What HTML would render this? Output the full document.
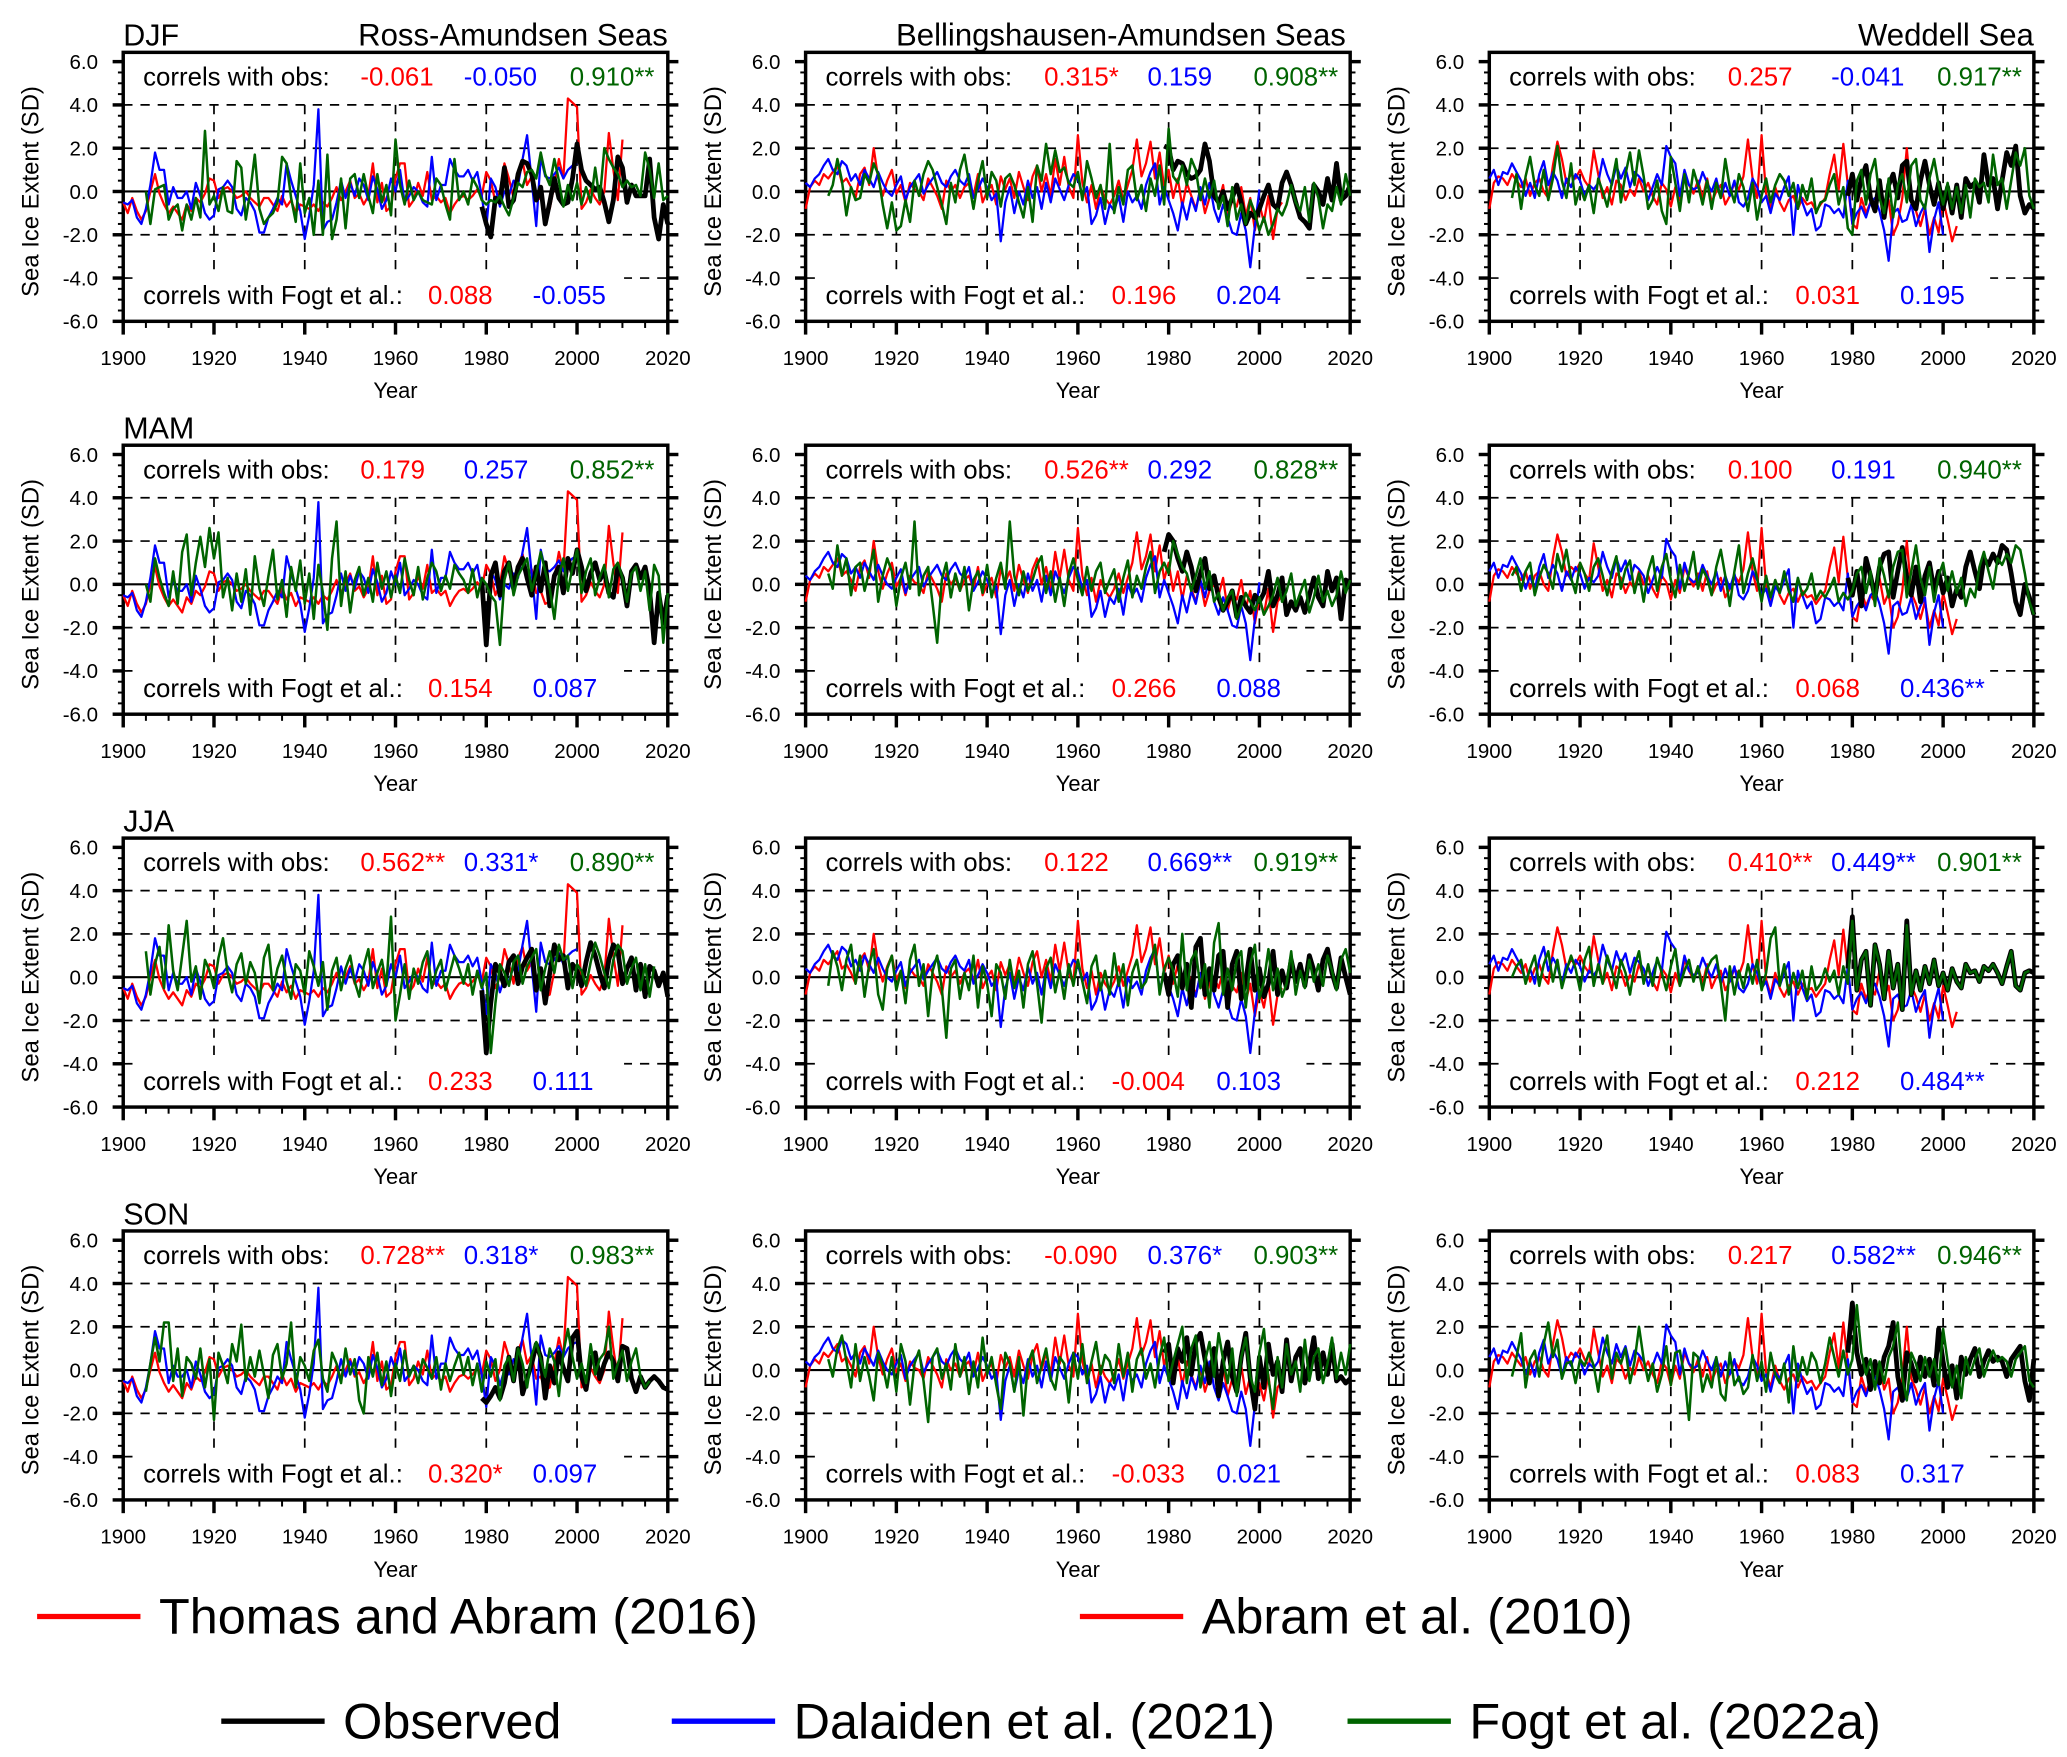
<!DOCTYPE html>
<html><head><meta charset="utf-8">
<style>
html,body{margin:0;padding:0;background:#fff;}
svg{display:block;font-family:"Liberation Sans",Arial,sans-serif;}
</style></head>
<body>
<svg id="fig" width="2067" height="1757" viewBox="0 0 1560 1326" xmlns="http://www.w3.org/2000/svg"></svg>
<script>
// ---- annual reconstructions (same across seasons) ----
const redC1 = [-0.5,-1.0,-0.3,-0.9,-1.3,-0.9,0.0,0.8,-0.1,-0.6,-1.0,-0.7,-1.0,-1.3,-0.6,-0.9,-0.3,-0.5,-0.1,0.6,0.5,-0.3,0.1,0.2,0.0,-0.3,-0.2,0.0,-0.3,-0.5,-0.7,-0.3,-0.3,-0.6,-0.9,-0.2,-0.7,-0.4,-1.0,-0.6,-0.7,-0.8,-0.6,-0.9,-0.5,-0.7,-0.3,0.2,-0.4,0.0,0.5,-0.3,-0.1,-0.6,-0.2,1.3,-0.5,0.4,-0.9,-0.7,0.6,1.3,1.3,-0.7,-0.4,0.4,-0.2,0.9,-0.4,-0.2,-0.5,-0.3,-1.0,-0.6,-0.3,-0.2,-0.4,-0.2,0.1,-0.2,0.9,0.5,-0.5,0.0,1.3,0.6,-0.3,0.9,1.4,0.3,0.7,-0.4,-0.3,-0.9,-0.8,0.3,1.5,0.6,4.3,4.1,3.9,-0.8,-0.5,0.1,-0.3,-0.6,0.0,2.7,1.0,-0.4,2.4];
const blueC1 = [-0.5,-0.6,-0.4,-1.2,-1.5,-0.8,0.3,1.8,1.0,1.0,-0.6,0.2,-0.3,-0.3,0.0,-0.8,0.4,-0.2,-1.0,-1.3,-1.1,0.1,0.2,0.5,0.2,-0.8,-1.1,-0.3,-0.5,-0.9,-1.9,-1.9,-1.2,-0.8,-0.3,-0.6,1.3,0.5,-0.2,-0.9,-2.2,-1.1,0.3,3.8,-1.8,-1.4,-1.3,-0.5,0.5,-0.3,0.4,-0.2,0.6,0.3,-0.4,0.7,0.1,-0.8,-0.4,0.6,0.0,1.0,-0.5,-0.2,0.2,0.0,-0.5,-0.7,1.6,-0.4,0.3,0.3,1.5,1.0,0.7,0.7,1.0,0.5,0.9,-0.2,-1.7,0.6,0.2,-0.7,0.0,-0.2,0.5,0.3,1.5,2.6,0.5,-1.6,1.6,0.7,0.6,0.8,1.1,0.6,1.0,1.2,1.3];
const redC2 = [-0.8,0.2,0.5,0.3,0.8,0.6,0.9,1.2,0.4,0.6,0.2,-0.3,0.8,1.1,0.3,2.0,0.6,-0.2,0.5,1.0,-0.1,0.3,-0.5,0.4,0.1,0.0,-0.4,0.6,0.2,-0.2,-0.8,0.5,0.0,0.3,-0.3,0.2,0.4,-0.2,0.8,-0.5,0.0,0.3,-0.6,0.7,0.1,0.6,-0.3,0.9,0.2,-0.4,0.7,1.2,0.0,0.8,-0.2,1.5,0.3,1.6,0.2,-0.3,2.6,0.4,-0.5,0.3,-0.8,0.2,-0.3,-0.6,-0.2,0.5,-0.4,0.3,1.0,2.4,0.7,1.3,2.3,0.6,1.8,0.2,1.0,-0.3,0.6,-0.7,0.4,-0.2,-0.8,0.1,-1.0,-0.3,0.0,-0.5,0.3,-1.2,-0.4,-0.7,0.2,-1.1,-0.3,-1.8,-0.6,-1.4,-0.2,-2.2,-0.8,-0.5];
const blueC2 = [0.4,0.2,0.6,0.8,1.2,1.5,1.0,0.8,1.4,1.2,0.5,0.8,0.3,1.0,0.6,0.2,0.9,0.4,0.0,-0.2,0.3,0.7,-0.4,0.2,0.5,0.8,-0.1,0.3,0.6,0.9,0.4,0.2,0.7,1.0,0.5,0.3,0.8,-0.3,0.1,0.6,0.2,-0.4,-0.1,-2.3,-0.5,0.2,-1.0,0.0,-0.6,0.5,-0.3,0.2,-0.8,0.4,-0.5,0.6,0.1,-0.4,0.3,0.8,0.6,-0.2,0.2,-1.5,-1.1,-0.3,-1.5,-0.6,-0.9,-0.2,-1.4,0.0,-0.5,-0.2,-0.8,0.3,0.9,1.3,-0.6,0.2,-0.4,-1.0,-1.8,-0.5,-1.3,-0.3,-0.9,0.2,-0.6,0.4,-0.8,-1.4,-0.6,-1.2,-1.9,-2.0,-1.0,-1.8,-3.5,-1.6,0.1];
const redC3 = [-0.8,0.4,0.7,0.6,0.3,0.8,0.5,0.2,0.6,-0.2,0.4,0.6,0.0,-0.3,1.2,2.3,1.5,0.4,0.8,0.6,1.0,0.5,0.2,1.9,0.8,-0.3,0.2,-0.6,0.5,0.3,-0.4,0.1,-0.2,0.6,0.0,0.4,-0.2,-0.6,0.4,0.1,-0.7,0.2,-0.4,0.8,0.3,-0.1,0.5,-0.3,0.6,-0.5,0.0,0.3,-0.6,-0.2,0.4,0.1,0.7,2.4,0.6,-0.3,2.6,-0.1,-0.8,0.2,-0.5,-0.9,-0.4,-0.2,-0.8,-0.3,-0.6,-0.5,-0.9,-0.6,-0.3,0.8,1.7,0.1,2.2,0.3,-1.5,-1.7,-0.3,-1.0,-0.5,-0.8,0.3,-0.9,-0.4,-2.0,-1.5,-0.3,2.0,-0.4,-0.9,-1.6,-0.8,-2.0,-1.2,-1.9,-0.4,-1.3,-2.3,-1.6];
const blueC3 = [0.6,1.0,0.3,0.9,0.8,1.3,0.9,0.5,-0.2,0.4,-0.3,0.8,1.4,0.3,0.9,0.5,-0.3,0.6,0.2,0.8,0.5,-0.2,0.3,0.1,0.4,1.5,0.8,0.3,1.2,0.6,1.1,0.2,0.9,0.7,0.4,-0.4,0.2,0.8,0.3,2.1,1.6,1.3,-0.2,1.0,0.3,0.1,0.2,0.9,0.4,0.0,0.6,-0.3,0.4,-0.2,0.5,-0.5,-0.7,-0.3,0.6,0.2,-0.5,-0.2,-1.0,-0.1,-0.4,0.2,0.7,-2.0,0.3,-0.5,-1.1,-0.8,-1.8,-1.6,-0.6,-0.7,-1.0,-0.8,-1.2,0.5,-1.5,-1.0,-0.7,-1.2,-0.5,-0.3,-0.9,-1.8,-3.2,-1.0,-0.8,-1.4,-1.3,-0.6,-1.6,-1.0,-0.6,-2.8,-1.3,-0.5,-2.0];

// ---- Fogt et al. (green, from 1905) per panel ----
const greenDJF1 = [0.0,-1.5,0.1,0.2,0.3,-1.3,-0.8,-0.6,-1.8,-0.6,-1.3,-0.3,-1.2,2.8,-0.6,-0.2,-0.9,0.2,-0.9,-1.0,1.4,1.1,-1.3,0.0,1.7,-0.8,-1.5,-1.2,-1.0,-0.5,1.6,1.3,-0.3,-1.4,1.3,-1.0,-0.3,-2.0,0.5,-2.0,1.7,-2.2,-1.3,0.6,-1.7,0.6,0.8,-0.3,0.8,-0.2,-1.0,0.8,-0.5,0.3,-1.1,2.4,0.3,-0.6,0.5,-0.4,0.0,-0.4,-0.5,-0.6,0.6,0.3,-0.6,-1.3,1.5,-0.4,0.0,-0.6,0.6,0.2,-0.4,-0.6,-0.4,-0.5,-0.2,-0.7,-1.1,-0.3,0.4,0.2,0.9,1.0,0.6,1.8,0.8,0.3,1.5,0.5,-0.7,0.3,-0.4,0.4,-0.6,0.2,-0.5,1.1,-0.4,2.0,1.5,1.1,0.8,0.2,0.5,0.2,0.3,-0.2,1.8,1.0,-0.3,1.3,-0.4,-0.2,-0.2,0.2,1.5,-0.8,-1.2,-1.0];
const greenMAM1 = [0.0,-0.8,1.2,0.3,-0.4,-1.0,0.6,-0.9,1.5,2.3,-0.5,1.0,2.2,0.8,2.6,1.2,2.4,-0.6,0.3,-1.2,0.5,-0.8,0.7,-1.4,1.3,-0.2,-1.0,0.4,1.6,-0.7,0.2,-1.5,0.8,-0.3,1.1,-0.9,0.5,-1.6,0.9,-0.4,-2.1,1.2,2.9,-1.0,0.6,-1.3,0.2,0.8,-0.5,0.3,-0.8,1.0,-0.2,0.6,-0.6,0.4,-0.4,1.2,0.2,-0.5,0.8,-0.7,0.3,1.0,0.6,-0.3,0.4,-0.2,0.9,0.5,0.2,-0.4,0.7,-0.6,0.3,0.0,-0.5,-0.8,-2.8,0.2,1.0,-0.5,0.4,0.8,1.2,-0.3,0.5,1.5,0.6,-0.2,-1.6,0.4,1.2,-0.3,0.8,1.6,-0.4,0.6,1.2,-0.5,0.3,0.9,-0.6,0.7,1.0,0.3,-0.8,0.5,0.8,-0.3,0.6,-1.2,0.9,0.4,-2.7,-0.4,-1.8,-0.5];
const greenJJA1 = [1.2,-0.8,0.6,1.4,-0.5,2.4,0.3,-0.6,1.0,2.6,-0.2,0.5,-1.0,0.8,0.3,-0.5,0.9,1.8,0.2,-0.7,0.6,1.1,-0.3,0.7,0.2,-1.2,0.9,1.5,-0.6,0.4,1.0,-0.2,-1.0,0.6,0.3,-0.8,1.2,0.5,-0.4,0.7,-1.5,0.3,0.9,-0.6,0.4,1.0,-0.2,-0.9,0.5,1.3,-0.5,0.2,0.8,-0.4,2.8,-2.0,-0.8,0.6,-1.0,0.4,-0.3,0.7,1.2,-0.5,0.3,0.8,-0.6,0.2,1.0,0.4,-0.3,0.6,-0.8,0.3,-0.5,0.2,-3.5,-1.2,0.6,0.2,-0.4,0.7,1.0,-0.3,0.5,0.9,1.3,-0.6,0.4,1.2,0.2,1.5,0.8,1.0,-0.5,0.6,0.3,-0.4,0.7,1.6,1.0,0.2,-0.5,0.8,1.5,1.2,-0.3,0.4,0.9,-0.6,0.6,-0.9,0.5];
const greenSON1 = [-1.0,0.3,1.5,0.4,2.2,2.2,-0.5,1.0,-1.2,0.6,0.3,-0.4,1.0,-0.8,0.5,-2.3,0.8,0.2,-0.6,1.2,0.4,2.1,-0.5,0.6,-0.3,0.9,-0.2,-1.3,0.7,1.2,-0.4,0.3,2.2,-0.8,0.6,0.2,-0.5,0.9,1.4,-0.4,-1.0,0.8,0.3,-0.6,1.0,-0.2,0.5,-1.4,-2.0,0.6,-0.3,0.8,-0.7,0.4,-1.2,0.3,-0.5,0.9,-0.3,0.2,-0.6,0.5,0.1,-0.4,0.6,-0.9,0.3,-0.5,0.2,0.8,-0.2,0.6,-0.7,0.3,-1.0,0.4,-0.3,0.5,-1.4,0.2,0.6,-0.5,1.0,0.3,-0.8,0.7,1.3,0.5,-0.3,1.0,0.4,-1.2,0.8,1.9,0.6,-0.4,0.3,-0.6,1.2,-0.2,0.5,0.8,2.0,-0.4,0.3,0.9,-0.5,0.4,1.0,-0.3,-0.8,-0.5];
const greenDJF2 = [-0.2,0.3,1.5,0.5,-1.1,0.2,-0.4,-0.3,0.8,0.4,1.3,0.8,-0.6,-1.7,-0.5,-1.8,-1.6,-0.4,-1.4,0.5,-0.2,0.8,1.4,1.0,0.2,-0.6,-1.5,0.4,-0.5,1.0,1.7,0.4,-0.8,0.5,1.4,-0.3,0.9,0.5,-0.7,0.6,0.8,0.3,-0.5,-1.2,0.2,-1.4,1.2,0.5,2.2,0.8,1.9,0.9,1.1,0.4,0.2,0.9,-0.4,1.4,0.6,-0.3,0.3,-0.8,2.2,-1.0,0.2,-0.6,1.0,1.2,-0.4,0.3,-0.9,0.6,-0.2,1.2,-0.6,2.9,0.7,0.4,1.2,0.3,1.5,1.0,-0.4,0.6,-0.3,0.5,-0.8,-0.2,-1.6,0.2,-1.3,-0.6,-1.5,-0.4,-1.0,-1.8,-1.2,-2.0,-1.5,-0.8,-1.1,-0.6,0.3,-0.5,-0.9,0.2,-1.4,0.4,-0.3,-1.7,-0.6,-0.9,0.2,-0.6,0.8,-0.2,0.4,-1.6,-0.3,0.0];
const greenMAM2 = [0.5,-0.2,1.8,0.4,1.2,-0.5,0.8,1.0,-0.3,0.6,1.6,-0.8,0.4,1.2,0.6,-1.0,0.3,1.0,-0.2,2.9,-0.5,0.4,0.8,-0.9,-2.7,0.2,1.0,-0.6,0.5,-0.3,0.8,-1.2,0.2,0.6,-0.4,0.9,-0.6,0.3,1.0,-0.2,2.9,0.4,-0.5,0.6,-0.3,0.2,0.9,1.3,-0.4,0.6,-0.8,0.3,-1.0,0.5,1.2,0.2,-0.5,0.8,-0.3,0.6,1.0,-0.4,0.2,0.7,-0.8,0.3,1.1,-0.6,0.4,-0.2,0.8,1.5,-0.4,0.6,1.0,0.5,2.0,1.4,0.8,0.5,-0.3,0.4,1.2,-0.2,0.6,-0.8,-0.4,-1.2,-0.6,-0.3,-1.6,-1.0,-0.4,-0.8,-1.2,-0.6,-1.4,-1.0,-0.5,0.3,-0.8,-0.3,0.5,-1.0,-0.4,0.2,-1.3,-0.6,0.4,-0.8,-0.3,-1.0,-0.5,0.6,-0.4,0.2,-1.5,0.3,0.0];
const greenJJA2 = [-0.4,1.2,0.5,-0.6,0.8,1.5,-0.3,1.0,-0.9,0.6,1.3,-0.8,-1.5,0.4,1.0,-0.6,0.3,-1.2,0.8,1.5,-0.4,0.6,-1.8,0.3,1.0,-0.5,-2.8,0.4,0.8,-1.0,0.2,-0.6,1.0,-1.4,0.5,-0.3,-1.8,0.6,0.2,-1.0,0.8,-0.5,0.3,-1.4,0.6,1.2,-0.3,-2.1,0.4,0.9,-0.7,0.3,-1.0,0.6,-0.4,0.8,-0.2,-1.2,0.5,1.0,-0.6,0.3,-0.8,1.1,-0.4,0.6,-1.3,0.2,0.8,-0.5,-0.2,0.6,1.5,-0.8,0.4,0.9,0.3,-0.9,2.0,-0.6,0.8,1.2,-0.5,0.6,-1.4,1.6,2.5,-0.8,0.4,-0.6,0.8,1.2,-1.4,0.6,1.5,-1.0,-0.2,1.3,-0.6,0.4,-0.9,-0.3,1.2,-0.8,0.3,-0.5,0.8,-0.2,0.6,-0.4,1.0,0.3,-0.6,0.8,1.3,0.2,-0.5,0.9,0.0];
const greenSON2 = [0.5,-0.3,1.0,1.6,0.4,-0.8,1.2,-0.5,0.6,-0.3,-1.4,0.8,0.2,-0.8,0.6,-1.0,1.2,0.4,-1.6,0.3,0.9,-0.5,-2.4,0.6,1.0,-0.4,0.3,-0.9,1.2,-0.3,0.6,-1.1,0.4,-0.8,1.5,-0.2,0.6,-0.7,-1.8,0.8,0.3,-1.0,0.6,-2.1,0.3,0.9,-0.6,0.2,1.0,-0.4,-0.9,0.6,0.3,-1.5,0.8,-0.4,1.2,-0.6,0.4,1.3,-0.2,0.7,0.4,-0.6,1.2,-0.3,0.8,-1.0,0.5,1.0,-0.4,0.3,-0.8,0.6,1.5,-0.5,0.4,1.2,2.0,-0.6,1.0,1.6,-0.8,0.4,1.3,-0.3,1.7,0.5,-0.6,1.0,-1.2,0.6,1.5,-0.3,-1.0,0.8,1.9,-0.4,-1.8,0.6,-0.8,1.2,-0.2,0.4,-1.0,1.4,-0.5,0.6,1.0,-0.6,0.3,1.5,-0.4,0.8,-0.2,1.2,-0.5,-0.3,0.0];
const greenDJF3 = [-0.3,0.8,-0.8,0.7,1.6,0.3,-0.2,1.0,-0.4,0.6,2.1,0.5,-0.3,1.3,-0.6,0.2,-0.4,0.3,-1.0,0.6,0.0,-0.7,0.4,1.5,-0.5,0.8,1.8,0.3,1.9,0.7,-0.8,-0.4,0.5,-0.9,-1.5,1.6,0.4,-0.9,0.8,-0.5,1.0,0.3,-0.6,0.5,-0.8,0.4,-0.3,1.5,0.2,-0.5,0.8,0.2,-0.9,0.4,-1.3,-0.2,0.6,-0.5,0.3,0.8,0.5,-0.2,0.4,-0.8,0.3,-0.4,0.6,-1.0,-0.5,-0.4,0.3,0.8,-0.6,0.2,-1.7,-2.0,0.5,1.0,-0.6,0.8,1.5,-0.3,-1.0,0.6,-1.2,0.3,0.8,-0.5,1.2,1.5,-0.4,-0.8,0.6,1.5,0.3,-0.6,0.4,-0.8,0.2,-1.0,0.3,-1.2,0.6,0.2,0.4,-0.5,1.7,0.3,0.6,-0.8,0.5,1.8,1.2,2.0,-0.2,-0.8];
const greenMAM3 = [0.4,0.8,-0.3,0.6,1.0,-0.5,0.3,0.9,0.5,-0.2,1.4,0.6,1.6,0.3,-0.4,1.0,0.5,-0.3,0.8,1.2,0.4,-0.5,0.6,1.3,-0.2,0.7,1.1,-0.4,0.5,-0.8,0.6,1.3,-0.3,0.8,1.4,0.2,-0.6,0.9,-0.3,0.5,1.5,-0.2,0.7,0.3,-0.5,0.8,1.6,0.4,-1.0,0.6,1.8,-0.4,0.5,1.2,0.3,-0.8,0.4,-0.6,0.2,-0.4,0.6,-0.3,-0.8,0.3,-0.5,-0.2,0.5,-0.7,-0.3,-0.6,-0.2,0.3,-0.8,-0.4,-0.7,-0.3,0.5,0.8,-0.4,0.6,-1.0,1.2,0.4,-0.6,0.8,1.5,1.6,-0.6,0.6,1.8,0.3,-0.5,0.8,-0.8,0.4,1.0,-0.3,0.6,-0.4,0.3,-1.0,-0.2,-0.6,0.8,1.5,0.6,-0.2,1.2,0.9,1.4,1.0,1.8,1.6,0.5,-0.8,-1.4,0.0];
const greenJJA3 = [0.0,0.5,0.8,-0.3,0.4,1.0,-0.4,0.6,1.2,-0.2,0.8,-0.5,0.3,1.0,0.4,-0.6,0.8,1.4,-0.4,0.6,-0.3,1.0,0.3,-0.5,0.8,0.2,-0.8,0.5,1.2,-0.3,0.6,-0.4,0.9,0.2,-0.6,0.5,1.3,-0.4,0.3,0.8,-0.2,0.5,-0.6,0.4,0.8,1.0,-0.3,-2.0,0.5,-0.8,0.3,-0.5,0.6,-0.3,0.8,-0.6,0.2,1.8,2.3,-0.4,0.6,-0.8,0.2,-0.5,0.3,-1.0,0.5,-0.6,-0.3,0.4,-0.2,0.3,-0.8,0.5,-0.3,2.6,-0.6,0.8,1.2,-1.3,1.5,0.6,-1.0,1.2,-0.5,0.6,-1.5,2.4,-0.8,0.3,-0.6,0.5,-0.3,0.8,-0.4,0.2,-0.6,0.4,-0.2,-0.5,0.6,0.2,0.3,-0.2,0.5,0.3,0.6,0.2,-0.3,0.5,1.2,-0.4,-0.6,0.2,0.3];
const greenSON3 = [-0.3,0.6,1.7,-0.8,0.5,0.9,-0.3,1.2,2.2,0.6,1.4,-0.4,0.3,0.4,-0.6,0.5,0.2,0.8,0.2,-1.0,0.6,1.6,-0.4,0.8,0.3,1.0,-0.6,0.4,2.0,0.5,-0.5,0.3,-1.0,-0.2,1.1,-0.7,0.8,0.9,-0.3,-2.3,0.8,0.6,-1.0,-0.2,-0.8,0.6,-1.1,-1.4,0.8,-0.7,-0.3,-1.1,-0.8,0.7,-0.5,0.4,-1.0,0.8,-0.2,-0.6,0.3,-1.5,1.1,-0.5,0.6,-0.2,0.8,0.4,-0.6,0.3,1.5,0.6,-0.3,0.9,-0.2,0.5,3.0,0.8,-0.2,0.5,-0.9,0.4,-0.6,0.6,1.1,2.2,-0.3,-1.4,0.8,0.3,-0.5,0.6,-0.3,0.5,-0.7,1.9,0.4,-0.8,0.2,-1.3,0.6,-0.2,0.5,1.0,-0.3,0.4,0.9,0.4,0.6,0.4,-0.3,0.5,0.8,1.1,-0.5,-0.8,-0.6,-0.9,0.3,0.5];

// ---- Observed (black, 1979-2020) per panel ----
const obsDJF1 = [-0.7,-1.5,-2.1,-0.3,-0.5,1.1,-0.7,-0.4,0.8,1.4,1.3,0.8,-0.4,0.2,-1.5,-0.5,0.6,-0.3,-0.6,-0.5,0.6,2.2,1.0,0.5,0.3,0.1,0.2,-0.5,-1.4,-0.4,1.6,1.1,-0.5,0.3,-0.2,-0.2,-0.2,1.5,-1.2,-2.2,-0.6,-1.5];
const obsMAM1 = [0.2,-2.8,0.4,1.0,-0.5,0.6,1.0,-0.2,0.8,1.2,0.3,-0.5,0.8,-0.3,1.0,-1.0,0.4,0.8,-0.4,1.2,0.5,1.6,0.8,-0.3,0.5,1.0,0.2,0.6,-0.4,-0.6,0.8,0.3,-1.0,0.6,0.9,0.3,0.8,-0.3,-2.7,-0.4,-1.8,-0.5];
const obsJJA1 = [-0.6,-3.5,-1.2,0.6,0.2,-0.4,0.7,1.0,-0.3,0.5,0.9,1.3,-0.6,0.4,-1.2,0.2,1.5,0.8,1.0,-0.5,0.6,0.3,-0.4,0.7,1.6,1.0,0.2,-0.5,0.8,1.5,1.2,-0.3,0.4,0.9,-0.6,0.6,-0.9,0.5,0.3,-0.4,0.2,-0.9];
const obsSON1 = [-1.3,-1.5,-1.2,-0.8,-1.3,-0.6,0.6,-0.5,1.0,-1.1,-0.4,0.3,1.2,0.6,-1.3,0.2,-0.6,0.8,0.1,-0.5,1.5,1.8,-0.3,-0.9,0.5,0.8,-0.4,0.3,0.8,0.4,-0.5,1.1,1.0,-0.4,-1.0,-0.3,-0.8,-0.5,-0.3,-0.5,-0.8,-0.9];
const obsDJF2 = [2.1,2.0,1.0,1.4,1.3,0.8,0.6,0.7,1.0,2.2,1.4,-0.2,-0.5,0.0,-0.8,-0.3,0.3,-0.5,-1.5,-1.0,-1.2,-0.8,-0.2,0.3,-0.6,-0.8,0.4,0.9,0.3,-0.5,-1.2,-1.4,-1.7,0.3,0.0,-0.6,0.6,-0.4,1.3,-0.4,-0.2,0.3];
const obsMAM2 = [1.5,2.3,2.0,1.2,0.6,1.5,0.8,-0.3,0.5,1.2,-0.2,0.4,-0.6,-1.2,-0.8,-0.3,-1.5,-0.6,-1.0,-1.3,-0.5,-0.8,-0.4,0.6,-1.0,-0.5,0.3,-1.4,-0.8,-1.2,-0.6,-1.3,-0.5,0.3,-0.6,-1.0,0.6,-0.3,0.3,-1.6,0.2,0.1];
const obsJJA2 = [0.2,-0.8,0.6,1.0,-0.5,0.6,-1.4,1.4,1.8,-0.8,0.4,-0.6,1.0,1.2,-1.4,0.6,1.2,-1.0,-0.2,1.3,-0.6,0.4,-0.9,-0.3,1.2,-0.8,0.3,-0.5,0.8,-0.2,0.6,-0.4,1.0,0.3,-0.6,0.8,1.3,0.2,-0.5,0.9,0.0,-0.8];
const obsSON2 = [0.8,1.2,-0.6,1.0,0.4,1.5,-0.2,1.3,1.7,0.5,-0.6,1.0,-1.2,0.4,1.3,-0.3,-1.0,0.6,1.7,-0.4,-1.8,0.6,-0.8,1.2,-0.2,0.4,-1.0,1.4,-0.5,0.6,1.0,-0.6,0.3,1.5,-0.4,0.8,-0.2,1.2,-0.5,-0.3,-0.6,-0.4];
const obsDJF3 = [-0.2,0.8,-0.4,0.6,1.2,-0.3,-0.9,0.5,-1.2,0.3,0.8,-0.3,1.2,1.4,-0.4,-0.8,0.5,1.4,0.3,-0.6,0.4,-0.8,0.2,-1.0,0.3,-1.2,0.6,0.2,0.4,-0.5,1.7,0.3,0.6,-0.8,0.5,1.8,1.2,2.1,-0.2,-1.0,-0.6,-0.8];
const obsMAM3 = [0.3,-0.5,0.6,-1.0,1.2,0.4,-0.6,0.8,1.4,1.5,-0.6,0.6,1.7,0.3,-0.5,0.8,-0.8,0.4,1.0,-0.3,0.6,-0.4,0.3,-1.0,-0.2,-0.6,0.8,1.5,0.6,-0.2,1.2,0.9,1.4,1.0,1.8,1.6,0.5,-0.8,-1.4,0.0,-0.6,-1.4];
const obsJJA3 = [0.4,2.8,-0.6,0.8,1.2,-1.3,1.5,0.6,-1.0,1.2,-0.5,0.6,-1.5,2.6,-0.8,0.3,-0.6,0.5,-0.3,0.8,-0.4,0.2,-0.6,0.4,-0.2,-0.5,0.6,0.2,0.3,-0.2,0.5,0.3,0.6,0.2,-0.3,0.5,1.2,-0.4,-0.6,0.2,0.3,0.2];
const obsSON3 = [0.8,3.1,0.8,-0.2,0.5,-0.9,0.4,-0.6,0.6,1.1,2.2,-0.3,-1.4,0.8,0.3,-0.5,0.6,-0.3,0.5,-0.7,1.9,0.4,-0.8,0.2,-1.3,0.6,-0.2,0.5,1.0,-0.3,0.4,0.9,0.4,0.6,0.4,-0.3,0.5,0.8,1.1,-0.5,-1.4,0.5];

// ---- labels ----
const seasons = ["DJF","MAM","JJA","SON"];
const regions = ["Ross-Amundsen Seas","Bellingshausen-Amundsen Seas","Weddell Sea"];
const xTicks = [1900,1920,1940,1960,1980,2000,2020];
const yTicks = [6,4,2,0,-2,-4,-6];
const yTickLabels = ["6.0","4.0","2.0","0.0","-2.0","-4.0","-6.0"];
const corrObsRed = [["-0.061","0.315*","0.257"],["0.179","0.526**","0.100"],["0.562**","0.122","0.410**"],["0.728**","-0.090","0.217"]];
const corrObsBlue = [["-0.050","0.159","-0.041"],["0.257","0.292","0.191"],["0.331*","0.669**","0.449**"],["0.318*","0.376*","0.582**"]];
const corrObsGreen = [["0.910**","0.908**","0.917**"],["0.852**","0.828**","0.940**"],["0.890**","0.919**","0.901**"],["0.983**","0.903**","0.946**"]];
const corrFogtRed = [["0.088","0.196","0.031"],["0.154","0.266","0.068"],["0.233","-0.004","0.212"],["0.320*","-0.033","0.083"]];
const corrFogtBlue = [["-0.055","0.204","0.195"],["0.087","0.088","0.436**"],["0.111","0.103","0.484**"],["0.097","0.021","0.317"]];

const reds=[redC1,redC2,redC3], blues=[blueC1,blueC2,blueC3];
const greens=[[greenDJF1,greenDJF2,greenDJF3],[greenMAM1,greenMAM2,greenMAM3],[greenJJA1,greenJJA2,greenJJA3],[greenSON1,greenSON2,greenSON3]];
const obs=[[obsDJF1,obsDJF2,obsDJF3],[obsMAM1,obsMAM2,obsMAM3],[obsJJA1,obsJJA2,obsJJA3],[obsSON1,obsSON2,obsSON3]];

const NS="http://www.w3.org/2000/svg";
const svg=document.getElementById('fig');
function mk(tag,attrs,parent,text){const e=document.createElementNS(NS,tag);for(const k in attrs)e.setAttribute(k,attrs[k]);if(text!==undefined)e.textContent=text;(parent||svg).appendChild(e);return e;}

const W=411, colX=[93,608,1124], rowTop=[46.5,343,639.5,936], PH=196;

function drawPanel(r,c){
  const L=colX[c], T=rowTop[r];
  const g=mk('g',{});
  
  
  const xs=v=>L+(v-1900)/120*W;
  const ys=v=>T+(6-v)/12*PH;
  const fr=mk('rect',{x:L,y:T-7,width:W,height:PH+7,fill:'none',stroke:'#000','stroke-width':2.6},g);
  
  [4,2,-2,-4].forEach(v=>{const l=mk('line',{x1:L,x2:L+W,y1:ys(v),y2:ys(v),stroke:'#000','stroke-width':1.3,'stroke-dasharray':'7,6'},g);
    });
  [1920,1940,1960,1980,2000].forEach(v=>{const l=mk('line',{x1:xs(v),x2:xs(v),y1:ys(4),y2:ys(-4),stroke:'#000','stroke-width':1.3,'stroke-dasharray':'7,6'},g);
    });
  for(let v=-6;v<=6.001;v+=0.5){const maj=Math.abs(v%2)<1e-6;const len=maj?8:4;
    mk('line',{x1:L-len,x2:L,y1:ys(v),y2:ys(v),stroke:'#000','stroke-width':maj?2.6:1.5},g);
    mk('line',{x1:L+W,x2:L+W+len,y1:ys(v),y2:ys(v),stroke:'#000','stroke-width':maj?2.6:1.5},g);}
  for(let v=1900;v<=2020;v+=5){const maj=v%20===0;const len=maj?10:5;
    mk('line',{x1:xs(v),x2:xs(v),y1:T+PH,y2:T+PH+len,stroke:'#000','stroke-width':maj?2.6:1.5},g);}
  yTicks.forEach((v,i)=>{const t=mk('text',{x:L-19,y:ys(v)+5.5,'font-size':15.5,'text-anchor':'end'},g,yTickLabels[i]);
    });
  xTicks.forEach(v=>{const t=mk('text',{x:xs(v),y:T+PH+33,'font-size':15.5,'text-anchor':'middle'},g,String(v));
    });
  const xt=mk('text',{x:L+W/2,y:T+PH+58,'font-size':16.5,'text-anchor':'middle'},g,'Year');
  
  const yt=mk('text',{x:0,y:0,'font-size':18,'text-anchor':'middle',transform:`translate(${L-64},${ys(0)}) rotate(-90)`},g,'Sea Ice Extent (SD)');
  
  mk('rect',{x:L+8,y:T-5,width:W-16,height:26,fill:'#fff'},g);
  mk('rect',{x:L+8,y:ys(-4)-6,width:370,height:30,fill:'#fff'},g);
  const z=mk('line',{x1:L,x2:L+W,y1:ys(0),y2:ys(0),stroke:'#000','stroke-width':1.6},g);
  
  function series(arr,start,color,w,name){
    let d='';arr.forEach((v,i)=>{const yr=start+i;if(yr>2020)return;d+=(d?'L':'M')+xs(yr).toFixed(1)+','+ys(v).toFixed(1);});
    const p=mk('path',{d:d,fill:'none',stroke:color,'stroke-width':w,'stroke-linejoin':'round'},g);
    }
  series(reds[c],1900,'#ff0000',1.7,'thomas-abram-line');
  series(blues[c],1900,'#0000ff',1.7,'dalaiden-line');
  series(obs[r][c],1979,'#000',3.6,'observed-line');
  series(greens[r][c],1905,'#006400',1.9,'fogt-line');
  const off=c*516;
  const fs=19.5;
  const t1=mk('text',{x:L+15,y:T+18,'font-size':fs},g,'correls with obs:');
  
  const a=mk('text',{x:272+off,y:T+18,'font-size':fs,fill:'#ff0000'},g,corrObsRed[r][c]);
  
  const b=mk('text',{x:350+off,y:T+18,'font-size':fs,fill:'#0000ff'},g,corrObsBlue[r][c]);
  
  const gg=mk('text',{x:430+off,y:T+18,'font-size':fs,fill:'#006400'},g,corrObsGreen[r][c]);
  
  const t2=mk('text',{x:L+15,y:T+183,'font-size':fs},g,'correls with Fogt et al.:');
  
  const fr2=mk('text',{x:323+off,y:T+183,'font-size':fs,fill:'#ff0000'},g,corrFogtRed[r][c]);
  
  const fb=mk('text',{x:402+off,y:T+183,'font-size':fs,fill:'#0000ff'},g,corrFogtBlue[r][c]);
  
  if(c===0){const s=mk('text',{x:L,y:T-12,'font-size':23},g,seasons[r]);
    }
  if(r===0){const anchor=c===1?'middle':'end';const xx=c===1?846:L+W;
    const s=mk('text',{x:xx,y:T-12,'font-size':23.5,'text-anchor':anchor},g,regions[c]);
    }
}
for(let r=0;r<4;r++)for(let c=0;c<3;c++)drawPanel(r,c);

const legendItems=[[28,1220,'#ff0000','Thomas and Abram (2016)'],[815,1220,'#ff0000','Abram et al. (2010)'],[167,1299,'#000','Observed'],[507,1299,'#0000ff','Dalaiden et al. (2021)'],[1017,1299,'#006400','Fogt et al. (2022a)']];
legendItems.forEach(it=>{
  const g=mk('g',{});
  
  
  mk('line',{x1:it[0],x2:it[0]+78,y1:it[1],y2:it[1],stroke:it[2],'stroke-width':4},g);
  mk('text',{x:it[0]+92,y:it[1]+13,'font-size':38},g,it[3]);
});
</script>
</body></html>
